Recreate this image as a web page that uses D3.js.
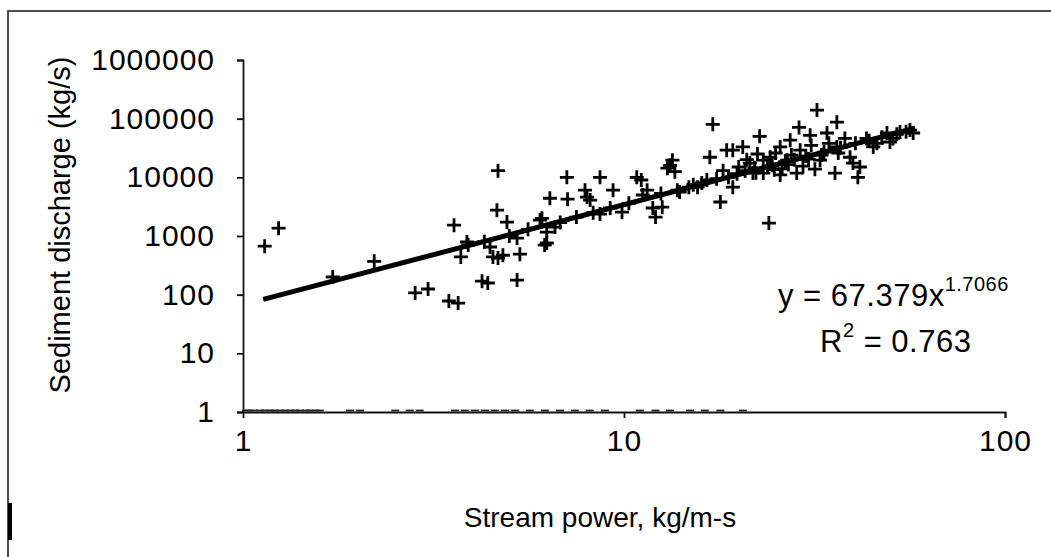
<!DOCTYPE html>
<html>
<head>
<meta charset="utf-8">
<script src="https://cdn.jsdelivr.net/npm/d3@7"></script>
<style>
  body { margin: 0; background: #fff; }
  svg { display: block; font-family: "Liberation Sans", Arial, sans-serif; }
</style>
</head>
<body>
<svg id="canvas" width="1051" height="557"></svg>
<script>
// stream power (kg/m-s) vs sediment discharge (kg/s)
var power = [1.14, 1.24, 1.72, 2.21, 2.83, 3.06, 3.47, 3.67, 3.58, 3.87, 3.73, 4.24, 4.39, 4.67, 4.64,
  4.45, 4.53, 4.67, 4.93, 5.24, 4.81, 5.33, 5.24, 6.09, 6.19, 6.39, 7.08, 7.11, 6.59, 6.27,
  7.9, 8.15, 8.65, 8.65, 9.36, 9.88, 10.8, 11.1, 11.2, 11.9, 12.1, 11.5, 12.6, 13.0, 13.4,
  13.8, 14.0, 15.6, 16.8, 17.1, 17.9, 18.6, 18.2, 19.3, 18.8, 32.1, 36.2, 28.8, 22.7, 20.5,
  24.0, 31.7, 35.8, 41.1, 39.9, 32.7, 25.7, 28.4, 23.2, 21.8, 56.3, 57.4, 50.8, 46.1, 43.3,
  49.0, 38.0, 34.1, 30.8, 27.3, 25.7, 24.2, 26.8, 29.0, 23.2, 21.4, 39.2, 41.6, 36.2, 45.1,
  49.9, 53.0, 6.02, 6.27, 8.0, 19.3,
  6.8, 7.5, 8.3, 9.2, 10.3, 12.5, 14.8, 16.0, 17.5, 19.8, 20.8, 22.0, 24.5, 26.5, 28.0,
  30.0, 33.5, 37.0, 40.5, 44.0, 47.5, 52.0, 55.0, 5.6, 5.0, 4.3, 3.9,
  20.0, 21.0, 22.4, 23.8, 25.0, 26.0, 27.5, 29.5, 31.0, 33.0, 34.5, 36.5, 24.8, 22.2, 27.0, 30.5,
  13.2, 13.6, 15.2, 16.5];
var sediment = [670, 1360, 200, 370, 107, 125, 78, 72, 1530, 790, 440, 170, 158, 13000, 2760,
  650, 440, 420, 1730, 920, 470, 490, 177, 2000, 700, 4400, 10000, 4250, 1420, 1160,
  6050, 4100, 10000, 2360, 6050, 2550, 10000, 9000, 5000, 3000, 2100, 6050, 3100, 14300, 19600,
  6050, 5600, 6800, 22000, 80000, 3800, 29000, 13000, 6800, 10000, 140000, 87000, 71000, 50000, 33000,
  1660, 13800, 11800, 10000, 17500, 19600, 11000, 11800, 11800, 11800, 64000, 57000, 46000, 38000, 46000,
  57000, 46000, 57000, 52000, 43000, 33000, 22000, 19600, 29000, 19600, 17500, 22000, 15000, 33000, 33000,
  40000, 59000, 1870, 760, 4600, 29000,
  1700, 2100, 2500, 3000, 3600, 5300, 6800, 8000, 9500, 11500, 13000, 14500, 16000, 18500, 20000,
  23000, 27000, 32000, 38000, 42000, 48000, 54000, 60000, 1300, 1000, 800, 700,
  15000, 20000, 25000, 15000, 26000, 14000, 24000, 15500, 35000, 24000, 38000, 26000, 13500, 12000, 16500, 20500,
  16000, 12500, 7500, 9000];

// observations that sit on the x axis (sediment at the axis minimum)
var zeroPower = [1.02, 1.04, 1.07, 1.11, 1.14, 1.18, 1.21, 1.25, 1.29, 1.33, 1.37, 1.41, 1.46, 1.5, 1.55,
  1.59, 1.91, 2.03, 2.51, 2.74, 2.91, 3.6, 3.82, 4.06, 4.32, 4.58, 4.87, 5.17, 5.66, 6.2,
  6.79, 7.43, 8.13, 8.91, 11.0, 12.1, 13.2, 14.9, 16.3, 17.9, 20.5];

var xTicks = [1, 10, 100];
var yTicks = [1, 10, 100, 1000, 10000, 100000, 1000000];
var fit = { a: 67.379, b: 1.7066, r2: 0.763, xmin: 1.13, xmax: 58 };

var svg = d3.select("#canvas");

// frame
svg.append("rect")
  .attr("x", 8).attr("y", 11)
  .attr("width", 1060).attr("height", 560)
  .attr("fill", "none").attr("stroke", "#222").attr("stroke-width", 1.6);
svg.append("line")
  .attr("x1", 10).attr("x2", 10).attr("y1", 503).attr("y2", 540)
  .attr("stroke", "#000").attr("stroke-width", 4);

var x = d3.scaleLog().domain([1, 100]).range([243, 1005]);
var y = d3.scaleLog().domain([1, 1000000]).range([412, 60]);

var fmt = d3.format("d");

var gy = svg.append("g")
  .attr("transform", "translate(" + x(1) + ",0)")
  .call(d3.axisLeft(y).tickValues(yTicks).tickFormat(fmt).tickSize(6).tickPadding(22));
var gx = svg.append("g")
  .attr("transform", "translate(0," + y(1) + ")")
  .call(d3.axisBottom(x).tickValues(xTicks).tickFormat(fmt).tickSize(6).tickPadding(12));

[gx, gy].forEach(function(g) {
  g.select(".domain").attr("stroke", "#111").attr("stroke-width", 1.8);
  g.selectAll(".tick line").attr("stroke", "#111").attr("stroke-width", 1.8);
  g.selectAll(".tick text")
    .attr("fill", "#000")
    .style("font-size", "30px")
    .style("letter-spacing", "1px")
    .style("font-family", "'Liberation Sans', Arial, sans-serif");
});
gx.selectAll(".tick").filter(function(d) { return d === 1; }).select("line").remove();

// zero-ish observations along the axis
svg.append("g").selectAll("line")
  .data(zeroPower)
  .enter().append("line")
    .attr("x1", function(d) { return x(d) - 4; })
    .attr("x2", function(d) { return x(d) + 4; })
    .attr("y1", y(1) - 1.5).attr("y2", y(1) - 1.5)
    .attr("stroke", "#222").attr("stroke-width", 1.8);

// power-law trend line
var fitLine = d3.line()
  .x(function(d) { return x(d); })
  .y(function(d) { return y(fit.a * Math.pow(d, fit.b)); });
svg.append("path")
  .attr("d", fitLine([fit.xmin, fit.xmax]))
  .attr("fill", "none").attr("stroke", "#000").attr("stroke-width", 5);

// plus markers
var pts = power.map(function(p, i) { return [p, sediment[i]]; });
svg.append("g").selectAll("path")
  .data(pts)
  .enter().append("path")
    .attr("transform", function(d) { return "translate(" + x(d[0]) + "," + y(d[1]) + ")"; })
    .attr("d", "M-7,0H7M0,-7V7")
    .attr("stroke", "#000").attr("stroke-width", 2.8).attr("fill", "none");

// axis titles
svg.append("text")
  .attr("x", 600).attr("y", 527)
  .attr("text-anchor", "middle")
  .style("font-size", "28px")
  .text("Stream power, kg/m-s");
svg.append("text")
  .attr("transform", "translate(70,225) rotate(-90)")
  .attr("text-anchor", "middle")
  .style("font-size", "29px")
  .text("Sediment discharge (kg/s)");

// equation
var eq = svg.append("text")
  .attr("x", 778).attr("y", 306)
  .style("font-size", "31px")
  .style("letter-spacing", "0.5px");
eq.append("tspan").text("y = " + fit.a + "x");
eq.append("tspan").attr("dy", -15).style("font-size", "20px").text(fit.b);
var r2 = svg.append("text")
  .attr("x", 820).attr("y", 352)
  .style("font-size", "31px")
  .style("letter-spacing", "0.5px");
r2.append("tspan").text("R");
r2.append("tspan").attr("dy", -15).style("font-size", "20px").text("2");
r2.append("tspan").attr("dy", 15).text(" = " + fit.r2);
</script>
</body>
</html>
